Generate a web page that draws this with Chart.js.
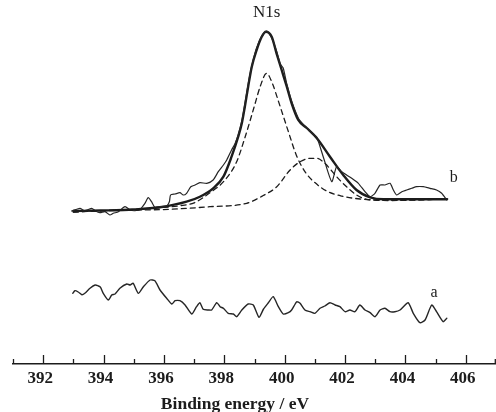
<!DOCTYPE html>
<html>
<head>
<meta charset="utf-8">
<script src="https://cdn.jsdelivr.net/npm/chart.js@4/dist/chart.umd.min.js"></script>
<style>
  html, body { margin: 0; padding: 0; background: #fff; }
</style>
</head>
<body>
<canvas id="xps" width="496" height="412"></canvas>
<script>
// Binding energy (eV) / intensity (a.u.)
const aEnergy = [392.98, 393.05, 393.16, 393.28, 393.38, 393.55, 393.72, 393.83, 393.9, 393.99, 394.16, 394.27, 394.38, 394.54, 394.77, 394.88, 394.98, 395.15, 395.32, 395.54, 395.7, 395.87, 396.09, 396.26, 396.37, 396.53, 396.7, 396.92, 397.08, 397.19, 397.3, 397.47, 397.58, 397.75, 397.86, 397.97, 398.13, 398.3, 398.41, 398.58, 398.79, 398.96, 399.15, 399.3, 399.46, 399.62, 399.79, 399.95, 400.12, 400.23, 400.4, 400.51, 400.67, 400.84, 401.0, 401.17, 401.33, 401.5, 401.67, 401.83, 402.0, 402.16, 402.33, 402.49, 402.66, 402.83, 402.99, 403.16, 403.32, 403.49, 403.65, 403.82, 404.09, 404.26, 404.48, 404.65, 404.87, 405.03, 405.25, 405.37];
const aIntensity = [70.7, 73.3, 72, 69.3, 70.7, 75.7, 79, 78, 76.7, 70.7, 64, 69, 70, 75.7, 80, 79, 80.7, 70.7, 77.3, 84, 83.3, 74, 65.7, 60, 63.3, 63.3, 59, 50, 57.3, 61.3, 54.7, 54, 54, 61.3, 57.3, 55.7, 50.7, 50, 47.3, 54, 60, 59, 46.7, 55, 61.3, 67.3, 57.3, 50, 51.3, 54, 62.3, 60.7, 54, 52.3, 50.7, 55.7, 58, 61.3, 59, 57.3, 52.3, 54, 52.3, 59, 54, 51.3, 47.3, 54, 55.7, 52.3, 52.3, 54, 61.3, 50.7, 41.3, 44, 59, 52.3, 42.3, 45.7];

const bEnergy = [392.94, 393.11, 393.22, 393.38, 393.61, 393.72, 393.88, 394.05, 394.21, 394.32, 394.49, 394.71, 394.88, 395.04, 395.21, 395.37, 395.48, 395.59, 395.7, 395.87, 396.09, 396.18, 396.22, 396.37, 396.53, 396.64, 396.75, 396.89, 397.03, 397.19, 397.42, 397.63, 397.8, 397.97, 398.08, 398.24, 398.35, 398.46, 398.58, 398.68, 398.79, 398.91, 399.07, 399.24, 399.4, 399.57, 399.73, 399.85, 399.95, 400.07, 400.23, 400.45, 400.6, 400.73, 400.9, 401.06, 401.3, 401.56, 401.72, 401.89, 402.05, 402.22, 402.44, 402.66, 402.83, 402.99, 403.16, 403.32, 403.49, 403.6, 403.71, 403.88, 404.04, 404.21, 404.37, 404.59, 404.81, 405.03, 405.2, 405.37];
const bIntensity = [153, 154.7, 155.7, 153.3, 155.7, 153.3, 151.3, 152.3, 149, 150.7, 152.3, 157.3, 154, 153.3, 154.7, 160.7, 166.3, 162.3, 156.7, 157.3, 158, 162.3, 169, 170, 171.3, 169, 170.7, 177.3, 179, 181.3, 180.7, 184, 192.3, 199, 204, 214, 220, 229, 243, 260, 280, 298, 316, 328, 333, 326, 313, 300, 296, 280, 263, 246, 240, 236, 231, 227, 205, 182.3, 197.3, 192.3, 189, 185.7, 180.7, 172.3, 167.3, 170.7, 179, 179, 180.7, 174, 169, 172.3, 174, 175.7, 177.3, 177.3, 175.7, 174, 170.7, 164];

const fitEnergy = [393.0, 393.9, 395.0, 395.87, 396.75, 397.19, 397.63, 397.97, 398.24, 398.46, 398.58, 398.68, 398.79, 398.91, 399.07, 399.24, 399.38, 399.57, 399.73, 399.9, 400.07, 400.23, 400.45, 400.73, 401.06, 401.5, 401.94, 402.38, 402.83, 403.27, 404.3, 405.37];
const fitIntensity = [153, 153.5, 154.5, 156.7, 162.3, 167.3, 175.7, 187.3, 207.3, 227.3, 240.7, 257.3, 277.3, 297.3, 314, 327.3, 332.3, 327.3, 310.7, 294, 277.3, 260.7, 244, 236, 226, 207.3, 189, 174, 166.7, 164.7, 164.7, 164.7];

const peak1Energy = [393, 394, 395, 396, 396.5, 397, 397.5, 398, 398.4, 398.7, 399.0, 399.2, 399.4, 399.6, 399.8, 400.1, 400.4, 400.7, 401.0, 401.4, 401.9, 402.5, 403.2, 404, 405.4];
const peak1Intensity = [152, 153.3, 154.7, 156.6, 158.2, 161.2, 170.7, 183.2, 201.7, 228, 258.3, 278.5, 290.7, 279.9, 262.1, 234.4, 207.8, 191.1, 181.4, 172.8, 167.8, 165, 163.9, 164, 165];

const peak2Energy = [393.0, 394.21, 396.2, 397.53, 398.74, 399.29, 399.73, 400.18, 400.51, 400.84, 401.06, 401.33, 401.72, 402.05, 402.38, 402.72, 403.49, 405.34];
const peak2Intensity = [152, 153.5, 154.7, 157.3, 160.7, 168.5, 177, 194, 202.3, 205.7, 205.7, 200.7, 187.3, 177.3, 169, 164.7, 163.5, 165];

const labelText = ['N1s', 'b', 'a'];
const labelEnergy = [399.4, 405.6, 404.95];
const labelIntensity = [351, 186, 71];
const labelSize = [17, 16, 16];

const ink = '#1c1c1c';
const serif = '"Liberation Serif", "Times New Roman", serif';

function pts(xs, ys) {
    return xs.map((v, i) => ({ x: v, y: ys[i] }));
}

// inward tick marks, curve labels and the axis title
const axisMarks = {
    id: 'axisMarks',
    afterDraw(chart) {
        const { ctx, scales: { x, y } } = chart;
        const base = x.top;
        ctx.save();
        ctx.strokeStyle = ink;
        ctx.lineWidth = 1.3;
        x.ticks.forEach(t => {
            const px = Math.min(Math.round(x.getPixelForValue(t.value)) + 0.5, chart.width - 0.7);
            const len = t.value % 2 === 0 ? 9 : 5;
            ctx.beginPath();
            ctx.moveTo(px, base);
            ctx.lineTo(px, base - len);
            ctx.stroke();
        });
        ctx.fillStyle = ink;
        ctx.textAlign = 'center';
        ctx.textBaseline = 'middle';
        labelText.forEach((txt, i) => {
            ctx.font = labelSize[i] + 'px ' + serif;
            ctx.fillText(txt, x.getPixelForValue(labelEnergy[i]), y.getPixelForValue(labelIntensity[i]));
        });
        ctx.font = 'bold 17.5px ' + serif;
        ctx.textBaseline = 'alphabetic';
        ctx.fillText('Binding energy / eV', 235, 409);
        ctx.restore();
    }
};

new Chart(document.getElementById('xps'), {
    type: 'line',
    data: {
        datasets: [
            { data: pts(peak1Energy, peak1Intensity), borderColor: ink, borderWidth: 1.3, borderDash: [5, 4], tension: 0.4, cubicInterpolationMode: 'monotone' },
            { data: pts(peak2Energy, peak2Intensity), borderColor: ink, borderWidth: 1.3, borderDash: [5, 4], tension: 0.4, cubicInterpolationMode: 'monotone' },
            { data: pts(aEnergy, aIntensity), borderColor: '#262626', borderWidth: 1.4, tension: 0.2 },
            { data: pts(bEnergy, bIntensity), borderColor: '#262626', borderWidth: 1.2, tension: 0.2 },
            { data: pts(fitEnergy, fitIntensity), borderColor: ink, borderWidth: 2.4, tension: 0.4, cubicInterpolationMode: 'monotone' }
        ]
    },
    options: {
        responsive: false,
        animation: false,
        events: [],
        layout: { padding: { left: 13, right: 0, top: 0, bottom: 0 } },
        elements: { point: { radius: 0 }, line: { fill: false, borderJoinStyle: 'round', borderCapStyle: 'round' } },
        plugins: { legend: { display: false }, tooltip: { enabled: false } },
        scales: {
            x: {
                type: 'linear',
                min: 391,
                max: 407,
                grid: { display: false, drawTicks: true, tickLength: 4 },
                border: { display: true, color: ink, width: 1.5 },
                ticks: {
                    stepSize: 1,
                    autoSkip: false,
                    maxRotation: 0,
                    padding: 0,
                    labelOffset: -3,
                    color: ink,
                    font: { family: serif, size: 17, weight: 'bold' },
                    callback: v => (v % 2 === 0 ? v : '')
                },
                afterFit: scale => { scale.height = 48; }
            },
            y: { display: false, min: 0, max: 364 }
        }
    },
    plugins: [axisMarks]
});
</script>
</body>
</html>
